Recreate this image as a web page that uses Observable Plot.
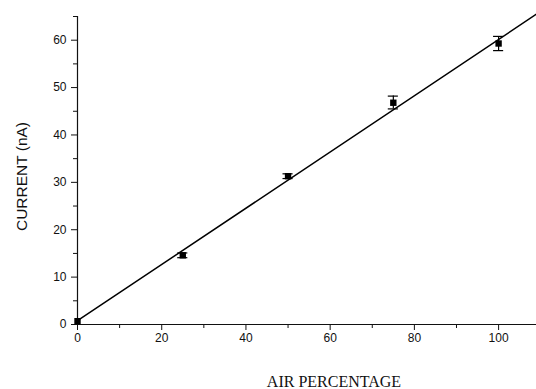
<!DOCTYPE html>
<html>
<head>
<meta charset="utf-8">
<script src="https://cdn.jsdelivr.net/npm/d3@7"></script>
<script src="https://cdn.jsdelivr.net/npm/@observablehq/plot@0.6"></script>
<style>
  html, body { margin: 0; padding: 0; background: #fff; }
  #chart svg { display: block; }
</style>
</head>
<body>
<div id="chart"></div>
<script>
// Data
const airPct   = [0, 25, 50, 75, 100];
const current  = [0.7, 14.6, 31.3, 46.8, 59.3];
const errLow   = [0.2, 14.1, 30.8, 45.5, 57.8];
const errHigh  = [1.2, 15.1, 31.8, 48.2, 60.8];
const fitX     = [0, 109];
const fitY     = [0.8, 65.5];
const xMajor   = [0, 20, 40, 60, 80, 100];
const xMinor   = [10, 30, 50, 70, 90];
const yMajor   = [0, 10, 20, 30, 40, 50, 60];
const yMinor   = [5, 15, 25, 35, 45, 55, 65];

const points = airPct.map((x, i) => ({x, y: current[i], lo: errLow[i], hi: errHigh[i]}));
const fit = fitX.map((x, i) => ({x, y: fitY[i]}));
const capHalf = 1.2;

const chart = Plot.plot({
  width: 536,
  height: 389,
  marginLeft: 77,
  marginRight: 0,
  marginTop: 16,
  marginBottom: 65,
  style: {fontFamily: "'Liberation Sans', Arial, sans-serif", fontSize: "12px", color: "#111", background: "#fff"},
  x: {domain: [0, 109]},
  y: {domain: [0, 65]},
  marks: [
    Plot.axisX({ticks: xMajor, tickSize: 6, tickPadding: 3, label: null, fontSize: 12}),
    Plot.axisX({ticks: xMinor, tickSize: 4, text: null, label: null}),
    Plot.axisY({ticks: yMajor, tickSize: 6, tickPadding: 5, label: null, fontSize: 12}),
    Plot.axisY({ticks: yMinor, tickSize: 4, text: null, label: null}),
    Plot.ruleY([0], {stroke: "#111", strokeWidth: 1.2}),
    Plot.ruleX([0], {y1: 0, y2: 65, stroke: "#111", strokeWidth: 1.2}),
    Plot.line(fit, {x: "x", y: "y", stroke: "#000", strokeWidth: 1.5}),
    Plot.ruleX(points, {x: "x", y1: "lo", y2: "hi", stroke: "#000", strokeWidth: 1.2}),
    Plot.ruleY(points.filter(d => d.x > 0), {y: "hi", x1: d => d.x - capHalf, x2: d => d.x + capHalf, stroke: "#000", strokeWidth: 1.2}),
    Plot.ruleY(points.filter(d => d.x > 0), {y: "lo", x1: d => d.x - capHalf, x2: d => d.x + capHalf, stroke: "#000", strokeWidth: 1.2}),
    Plot.dot(points, {x: "x", y: "y", symbol: "square", r: 3.6, fill: "#000", stroke: null}),
    Plot.text(["CURRENT (nA)"], {text: d => d, frameAnchor: "left", textAnchor: "middle", rotate: -90, dx: -55, dy: 6, fontSize: 15.5, fill: "#111", fontFamily: "'Liberation Sans', Arial, sans-serif"}),
    Plot.text(["AIR PERCENTAGE"], {text: d => d, frameAnchor: "bottom", textAnchor: "middle", lineAnchor: "bottom", dx: 27, dy: 62, fontSize: 16, fill: "#111", fontFamily: "'Liberation Serif', 'Times New Roman', serif"})
  ]
});
document.getElementById("chart").appendChild(chart);
</script>
</body>
</html>
